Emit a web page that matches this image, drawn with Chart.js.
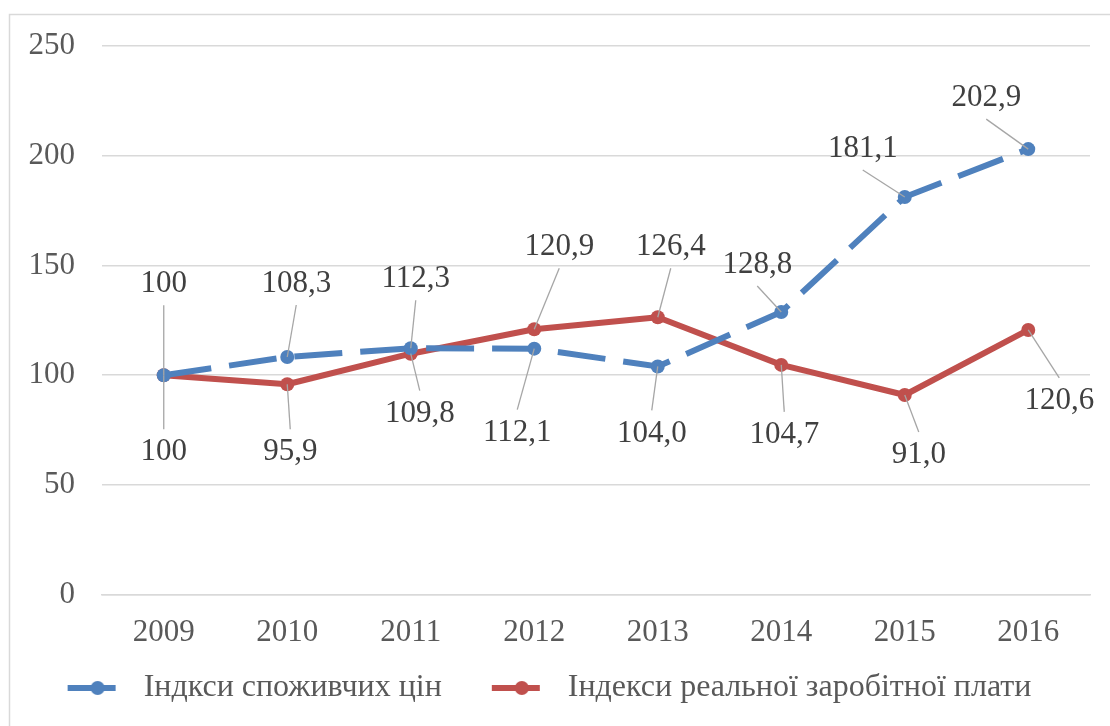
<!DOCTYPE html>
<html>
<head>
<meta charset="utf-8">
<script src="https://cdn.jsdelivr.net/npm/chart.js@4.4.1/dist/chart.umd.min.js"></script>
<style>
  html, body { margin: 0; padding: 0; background: #fff; }
</style>
</head>
<body>
<canvas id="chart" width="1110" height="726"></canvas>
<script>
const years = ['2009', '2010', '2011', '2012', '2013', '2014', '2015', '2016'];
const cpiIndex = [100, 108.3, 112.3, 112.1, 104.0, 128.8, 181.1, 202.9];
const realWageIndex = [100, 95.9, 109.8, 120.9, 126.4, 104.7, 91.0, 120.6];
const yTicks = [0, 50, 100, 150, 200, 250];

const BLUE = '#4f81bd';
const RED = '#c0504d';
const FONT = '"Liberation Serif", "Times New Roman", serif';

// label placement relative to the point (px), one per point
const cpiLabelOffsets = [[0, -91], [9, -73], [5, -69], [-17, 84], [-6, 67], [-24, -47], [-42, -48], [-42, -51]];
const wageLabelOffsets = [[0, 77], [3, 68], [9, 60], [25, -82], [13, -70], [3, 70], [14, 60], [31, 71]];

function fmt(v) {
  return v === 100 ? '100' : v.toFixed(1).replace('.', ',');
}

// legend symbol: blank lead-in, short line with a round marker
function legendSymbol(color) {
  const c = document.createElement('canvas');
  c.width = 85; c.height = 16;
  const g = c.getContext('2d');
  g.strokeStyle = color;
  g.lineWidth = 6;
  g.beginPath(); g.moveTo(25, 8); g.lineTo(73, 8); g.stroke();
  g.fillStyle = color;
  g.beginPath(); g.arc(55, 8, 7, 0, Math.PI * 2); g.fill();
  return c;
}

const framePlugin = {
  id: 'frame',
  beforeDraw(chart) {
    const ctx = chart.ctx;
    ctx.save();
    ctx.fillStyle = '#fff';
    ctx.fillRect(0, 0, chart.width, chart.height);
    ctx.strokeStyle = '#d9d9d9';
    ctx.lineWidth = 1.5;
    ctx.strokeRect(9.5, 14.5, chart.width + 20, chart.height + 20);
    ctx.restore();
  }
};

const pointLabelsPlugin = {
  id: 'pointLabels',
  afterDatasetsDraw(chart, args, opts) {
    const ctx = chart.ctx;
    ctx.save();
    chart.data.datasets.forEach((ds, di) => {
      const meta = chart.getDatasetMeta(di);
      const offsets = opts.offsets[di];
      meta.data.forEach((pt, i) => {
        const [dx, dy] = offsets[i];
        const lx = pt.x + dx, ly = pt.y + dy;
        const sy = ly + (dy < 0 ? 21 : -23);
        ctx.strokeStyle = '#a6a6a6';
        ctx.lineWidth = 1.3;
        ctx.beginPath();
        ctx.moveTo(lx, sy);
        ctx.lineTo(pt.x, pt.y);
        ctx.stroke();
        ctx.fillStyle = '#404040';
        ctx.font = `31px ${FONT}`;
        ctx.textAlign = 'center';
        ctx.textBaseline = 'middle';
        ctx.fillText(fmt(ds.data[i]), lx, ly);
      });
    });
    ctx.restore();
  }
};

const ctx = document.getElementById('chart').getContext('2d');
const chart = new Chart(ctx, {
  type: 'line',
  data: {
    labels: years,
    datasets: [
      {
        label: 'Індкси споживчих цін',
        data: cpiIndex,
        borderColor: BLUE,
        backgroundColor: BLUE,
        borderWidth: 6,
        borderDash: [48, 18],
        borderCapStyle: 'butt',
        pointRadius: 7,
        pointBorderWidth: 0,
        pointBackgroundColor: BLUE,
        tension: 0
      },
      {
        label: 'Індекси реальної заробітної плати',
        data: realWageIndex,
        borderColor: RED,
        backgroundColor: RED,
        borderWidth: 6,
        borderCapStyle: 'round',
        borderJoinStyle: 'round',
        pointRadius: 7,
        pointBorderWidth: 0,
        pointBackgroundColor: RED,
        tension: 0
      }
    ]
  },
  options: {
    responsive: false,
    animation: false,
    // negative left padding nudges the centred legend to the left
    layout: { padding: { left: -16, right: 20, top: 45, bottom: 12 } },
    plugins: {
      tooltip: { enabled: false },
      pointLabels: { offsets: [cpiLabelOffsets, wageLabelOffsets] },
      legend: {
        position: 'bottom',
        labels: {
          usePointStyle: true,
          pointStyleWidth: 85,
          padding: 25,
          color: '#595959',
          font: { family: FONT, size: 32 },
          generateLabels(chart) {
            const items = Chart.defaults.plugins.legend.labels.generateLabels(chart);
            return items.map((it, i) => ({ ...it, pointStyle: legendSymbol(i === 0 ? BLUE : RED), lineDash: [] }));
          }
        }
      }
    },
    scales: {
      x: {
        offset: true,
        grid: { display: false },
        border: { display: true, color: '#d9d9d9', width: 1.5 },
        ticks: { color: '#595959', font: { family: FONT, size: 31 }, padding: 11 },
        afterFit(scale) { scale.height = 52; }
      },
      y: {
        min: 0,
        max: 250,
        afterBuildTicks(scale) { scale.ticks = yTicks.map((v) => ({ value: v })); },
        grid: { color: '#d9d9d9', lineWidth: 1.5, drawTicks: false },
        border: { display: false },
        ticks: { color: '#595959', font: { family: FONT, size: 31 }, padding: 27 },
        afterFit(scale) { scale.width = 118; }
      }
    }
  },
  plugins: [framePlugin, pointLabelsPlugin]
});
</script>
</body>
</html>
